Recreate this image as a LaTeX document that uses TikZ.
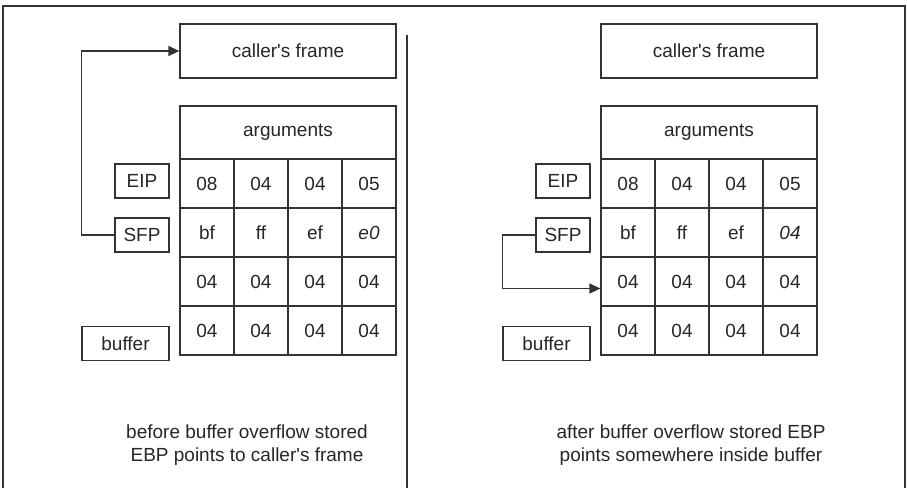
\documentclass[tikz,border=0pt]{standalone}
\usepackage{fontspec}
\setmainfont{Liberation Sans}
\usepackage{tikz}
\usetikzlibrary{arrows.meta}

\begin{document}
\begin{tikzpicture}[x=1pt, y=-1pt, line width=1.2pt,
  every node/.style={font=\fontsize{19}{23}\selectfont, text=black!85},
  stackbox/.style={draw=black!80, inner sep=0pt, minimum width=216pt, minimum height=54pt},
  cell/.style={draw=black!80, inner sep=0pt, minimum width=54pt, minimum height=49pt},
  labelbox/.style={draw=black!80, inner sep=0pt, minimum width=54pt, minimum height=34pt},
  ptr/.style={draw=black!80, -{Triangle[length=11pt,width=10pt]}}]
\useasboundingbox (0,0) rectangle (908,488);
%outer frame and divider
\draw[black!80] (3,488) -- (3,6) -- (905,6) -- (905,488);
\draw[black!80] (407,35) -- (407,488);
%both stacks
\foreach \s/\ox/\last in {L/0/e0, R/421/04}{
\begin{scope}[xshift=\ox]
	\node[stackbox] (\s-frame) at (288,51) {caller\textquotesingle s frame};
	\node[stackbox, minimum height=53pt] (\s-args) at (288,132.5) {arguments};
	\foreach \v [count=\c] in {08,04,04,05}
		\node[cell] (\s-a\c) at (153+54*\c,183.5) {\v};
	\foreach \v [count=\c] in {bf,ff,ef,\textit{\last}}
		\node[cell] (\s-b\c) at (153+54*\c,232.5) {\v};
	\foreach \r/\y in {c/281.5,d/330.5}{
		\foreach \c in {1,...,4}
			\node[cell] (\s-\r\c) at (153+54*\c,\y) {04};
	}
	%register labels
	\node[labelbox] (\s-eip) at (142,181) {EIP};
	\node[labelbox] (\s-sfp) at (142,235) {SFP};
	\node[labelbox, minimum width=87pt] (\s-buf) at (125.5,343.5) {buffer};
\end{scope}
}
%saved frame pointer
\draw[ptr] (L-sfp.west) -- ++(-33,0) |- (L-frame.west);
\draw[ptr] (R-sfp.west) -- ++(-33,0) |- ([yshift=-7pt]R-c1.west);
%notes
\node[align=center] (Lnote) at (247,445.5) {before buffer overflow stored\\EBP points to caller\textquotesingle s frame};
\node[align=center] (Rnote) at (691,445.5) {after buffer overflow stored EBP\\points somewhere inside buffer};
\end{tikzpicture}
\end{document}
